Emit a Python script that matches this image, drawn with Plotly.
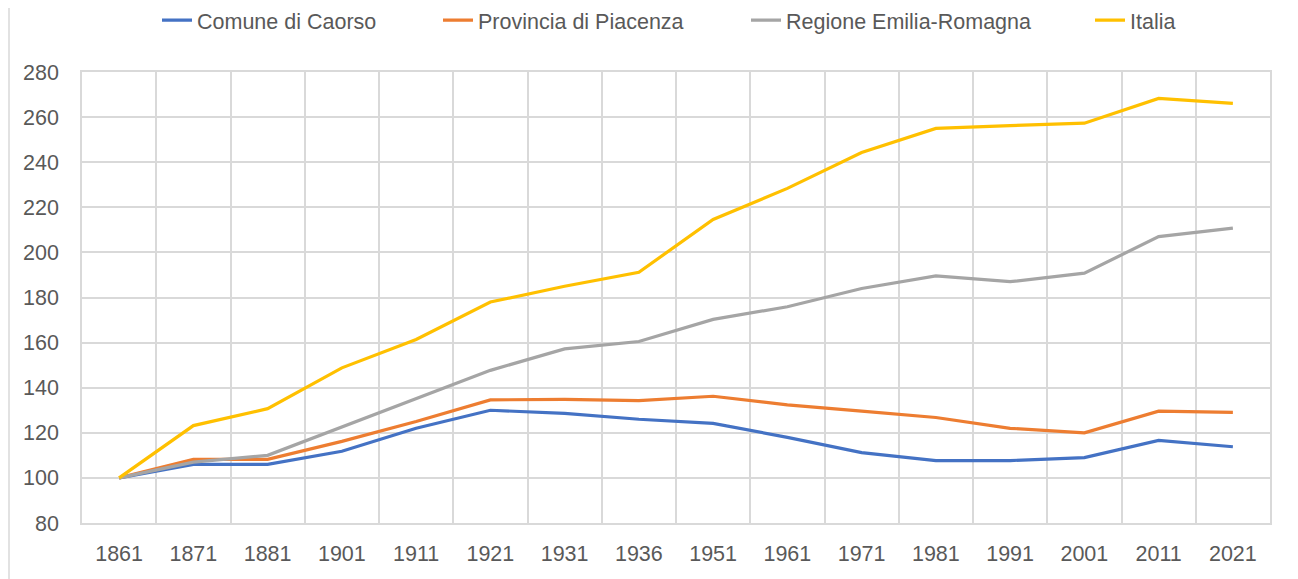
import plotly.graph_objects as go

years = ["1861", "1871", "1881", "1901", "1911", "1921", "1931", "1936",
         "1951", "1961", "1971", "1981", "1991", "2001", "2011", "2021"]

caorso = [100, 106, 106, 111.8, 122, 130, 128.6, 126, 124.2, 118, 111.2, 107.7, 107.7, 109, 116.6, 113.8]
piacenza = [100, 108.2, 108.2, 116.2, 125, 134.6, 134.8, 134.3, 136.2, 132.4, 129.6, 126.8, 122, 120, 129.6, 129.1]
emilia = [100, 107, 110, 122.6, 135.4, 147.7, 157.2, 160.5, 170.3, 175.9, 184, 189.6, 187, 190.8, 207, 210.8]
italia = [100, 123.2, 130.7, 148.8, 161.4, 178, 185, 191.2, 214.6, 228.4, 244.3, 255, 256.2, 257.3, 268.3, 266.1]

series_names = ["Comune di Caorso", "Provincia di Piacenza", "Regione Emilia-Romagna", "Italia"]
series_values = [caorso, piacenza, emilia, italia]
colors = ["#4472C4", "#ED7D31", "#A5A5A5", "#FFC000"]
legend_ids = ["legend", "legend2", "legend3", "legend4"]
# page x of the start of each legend text in the reference
text_starts = [198, 479, 787, 1131]

# page offset (body margin) = 8px; plot area in page: x 82..1270, y 72..523
L, R, T, B = 74, 28, 64, 56
W, H = 1290, 571
plot_left_page = 8 + L
plot_w = W - L - R

fig = go.Figure()
for name, vals, col, lid in zip(series_names, series_values, colors, legend_ids):
    fig.add_trace(go.Scatter(x=years, y=vals, name=name, mode="lines",
                             line=dict(color=col, width=3.2), legend=lid))

font = "Liberation Sans, Arial, sans-serif"
fs = 21.5

legend_defs = {}
for lid, ts in zip(legend_ids, text_starts):
    legend_defs[lid] = dict(orientation="h", x=(ts - 41 - plot_left_page) / plot_w,
                            xanchor="left", y=1.115, yanchor="middle",
                            font=dict(family=font, size=fs, color="#595959"),
                            bgcolor="rgba(0,0,0,0)")

fig.update_layout(
    width=W, height=H,
    margin=dict(l=L, r=R, t=T, b=B, autoexpand=False),
    plot_bgcolor="white", paper_bgcolor="white",
    font=dict(family=font, size=fs, color="#595959"),
    showlegend=True,
    xaxis=dict(type="category", range=[-0.5, 15.5], tickson="boundaries",
               showgrid=True, gridcolor="#D9D9D9", gridwidth=1.5,
               showline=True, linecolor="#D9D9D9", linewidth=1.5, mirror=True,
               ticks="", ticklabelstandoff=10,
               tickfont=dict(family=font, size=fs, color="#595959"),
               automargin=False, fixedrange=True),
    yaxis=dict(range=[80, 280], dtick=20, tick0=80,
               showgrid=True, gridcolor="#D9D9D9", gridwidth=1.5,
               showline=True, linecolor="#D9D9D9", linewidth=1.5, mirror=True,
               zeroline=False,
               ticks="outside", ticklen=17, tickcolor="rgba(0,0,0,0)",
               tickfont=dict(family=font, size=fs, color="#595959"),
               automargin=False, fixedrange=True),
    shapes=[dict(type="line", xref="paper", yref="paper",
                 x0=(-L + 1) / plot_w, x1=(-L + 1) / plot_w, y0=-0.2, y1=1.2,
                 line=dict(color="#D9D9D9", width=1.5))],
    **legend_defs,
)

fig.write_html("out.html")
